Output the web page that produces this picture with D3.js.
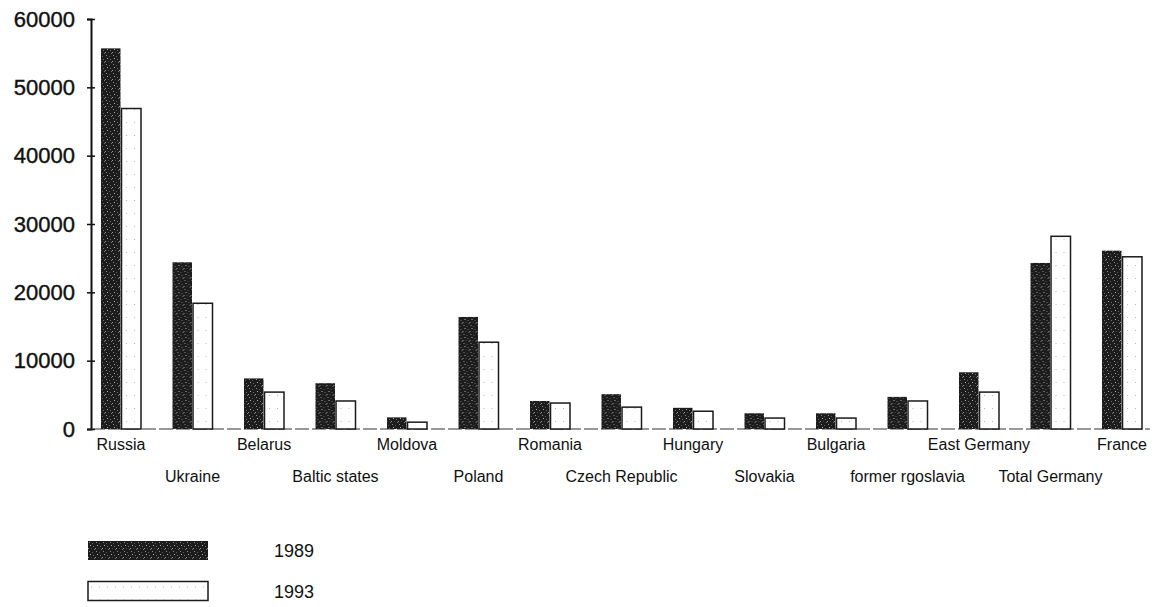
<!DOCTYPE html>
<html>
<head>
<meta charset="utf-8">
<script src="https://cdn.jsdelivr.net/npm/d3@7"></script>
<style>
  body { margin: 0; background: #fff; }
  text { font-family: "Liberation Sans", Arial, sans-serif; fill: #111; }
</style>
</head>
<body>
<svg id="chart" width="1157" height="607"></svg>
<script>
let categories = ['Russia', 'Ukraine', 'Belarus', 'Baltic states', 'Moldova', 'Poland', 'Romania',
  'Czech Republic', 'Hungary', 'Slovakia', 'Bulgaria', 'former rgoslavia', 'East Germany',
  'Total Germany', 'France']
let values1989 = [55700, 24400, 7400, 6700, 1700, 16400, 4100, 5100, 3100, 2300, 2300, 4700, 8300, 24300, 26100]
let values1993 = [46900, 18400, 5400, 4100, 1000, 12700, 3800, 3200, 2600, 1600, 1600, 4100, 5400, 28200, 25200]
let seriesNames = ['1989', '1993']
let yTicks = [0, 10000, 20000, 30000, 40000, 50000, 60000]

let rows = categories.map((c, i) => ({ name: c, v: [values1989[i], values1993[i]] }))

let svg = d3.select('#chart')

// speckled texture for the dark bars
let defs = svg.append('defs')
let pat = defs.append('pattern')
  .attr('id', 'speck')
  .attr('patternUnits', 'userSpaceOnUse')
  .attr('width', 7).attr('height', 9)
pat.append('rect').attr('width', 7).attr('height', 9).attr('fill', '#1c1c1c')
let specks = [[1, 1, '#8a8a8a'], [4, 2, '#5a5a5a'], [2, 4, '#b0b0b0'], [5, 5, '#6e6e6e'], [0, 7, '#9a9a9a'], [3, 7, '#4a4a4a'], [6, 8, '#777']]
specks.forEach(s => pat.append('rect').attr('x', s[0]).attr('y', s[1]).attr('width', 1).attr('height', 1).attr('fill', s[2]))

let pat2 = defs.append('pattern')
  .attr('id', 'dots')
  .attr('patternUnits', 'userSpaceOnUse')
  .attr('width', 8).attr('height', 13)
pat2.append('rect').attr('width', 8).attr('height', 13).attr('fill', '#fff')
pat2.append('rect').attr('x', 3).attr('y', 5).attr('width', 1).attr('height', 1).attr('fill', '#bbb')

let x0 = d3.scaleBand().domain(categories).range([91, 91 + 15 * 71.5])
let x1 = d3.scaleBand().domain(seriesNames).range([10, 50]).paddingInner(0.05)
let y = d3.scaleLinear().domain([0, 60000]).range([429, 19])

// y axis
let yAxis = svg.append('g')
  .attr('transform', 'translate(91,0)')
  .call(d3.axisLeft(y).tickValues(yTicks).tickSize(4).tickFormat(d3.format('d')))
yAxis.select('.domain').attr('stroke', '#111').attr('stroke-width', 2)
yAxis.selectAll('.tick line').attr('stroke', '#111').attr('stroke-width', 1.5).attr('x2', 4).attr('x1', -4)
yAxis.selectAll('.tick text')
  .attr('x', -16)
  .attr('font-size', 22)
  .attr('font-family', '"Liberation Sans", Arial, sans-serif')
  .attr('fill', '#111')
  .attr('stroke', '#111').attr('stroke-width', 0.4)

// baseline
svg.append('line')
  .attr('x1', 91).attr('x2', 1150)
  .attr('y1', y(0)).attr('y2', y(0))
  .attr('stroke', '#333').attr('stroke-width', 1.2)
  .attr('stroke-dasharray', '14,3')

// bars
let groups = svg.selectAll('.grp')
  .data(rows)
  .enter().append('g')
  .attr('class', 'grp')
  .attr('transform', d => 'translate(' + x0(d.name) + ',0)')

groups.selectAll('rect')
  .data(d => d.v.map((v, k) => ({ key: seriesNames[k], value: v })))
  .enter().append('rect')
  .attr('x', d => x1(d.key))
  .attr('y', d => y(d.value))
  .attr('width', x1.bandwidth())
  .attr('height', d => y(0) - y(d.value))
  .attr('fill', d => d.key === '1989' ? 'url(#speck)' : 'url(#dots)')
  .attr('stroke', d => d.key === '1989' ? 'none' : '#1a1a1a')
  .attr('stroke-width', 1.5)

// category labels, two alternating rows
svg.selectAll('.xlab')
  .data(categories)
  .enter().append('text')
  .attr('class', 'xlab')
  .attr('x', d => x0(d) + 30)
  .attr('y', (d, i) => i % 2 === 0 ? 450 : 482)
  .attr('text-anchor', 'middle')
  .attr('font-size', 16)
  .text(d => d)

// legend
let legend = svg.selectAll('.leg')
  .data(seriesNames)
  .enter().append('g')
  .attr('class', 'leg')
  .attr('transform', (d, i) => 'translate(88,' + (541 + i * 40.5) + ')')

legend.append('rect')
  .attr('width', 120).attr('height', 19)
  .attr('fill', d => d === '1989' ? 'url(#speck)' : 'url(#dots)')
  .attr('stroke', d => d === '1989' ? 'none' : '#1a1a1a')
  .attr('stroke-width', 1.5)

legend.append('text')
  .attr('x', 186).attr('y', 16)
  .attr('font-size', 18)
  .text(d => d)
</script>
</body>
</html>
